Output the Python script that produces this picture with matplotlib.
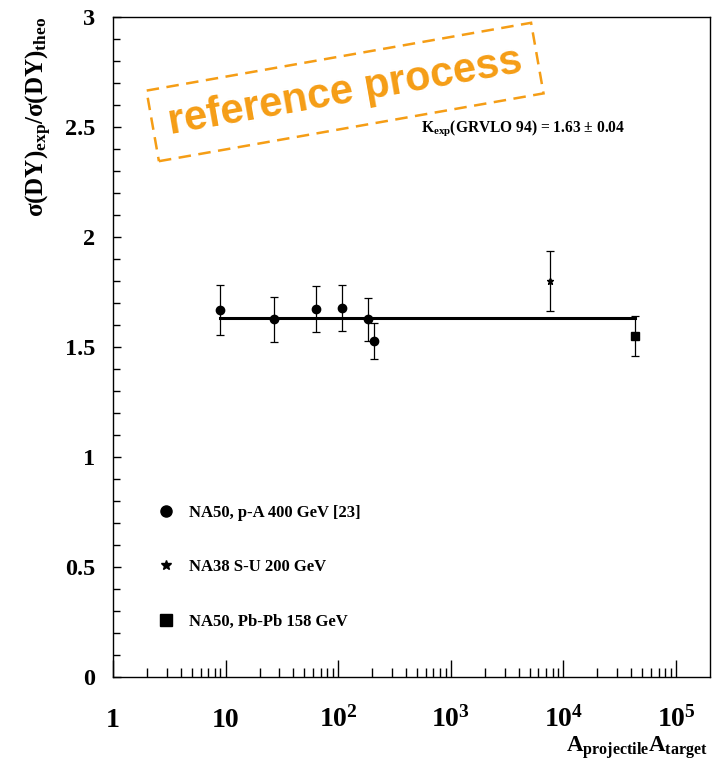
import numpy as np
from matplotlib import pyplot as plt
from matplotlib.lines import Line2D
from matplotlib.ticker import FixedLocator, MultipleLocator, NullFormatter

plt.rcParams['font.family'] = ['Liberation Serif', 'DejaVu Serif']
plt.rcParams['font.weight'] = 'bold'
plt.rcParams['mathtext.fontset'] = 'custom'
plt.rcParams['mathtext.rm'] = 'Liberation Serif:bold'
plt.rcParams['mathtext.bf'] = 'Liberation Serif:bold'
plt.rcParams['mathtext.it'] = 'Liberation Serif:bold'

# NA50 p-A 400 GeV (Be, Al, Cu, Ag, W, Pb)
pa_x = [9, 27, 64, 108, 184, 208]
pa_y = [1.668, 1.626, 1.673, 1.677, 1.627, 1.527]
pa_err = [0.115, 0.103, 0.103, 0.105, 0.098, 0.083]

# NA38 S-U 200 GeV
su_x = [7616]
su_y = [1.80]
su_err = [0.136]

# NA50 Pb-Pb 158 GeV
pbpb_x = [43264]
pbpb_y = [1.55]
pbpb_err = [0.093]

# fitted K factor
k_fit = 1.63
k_err = 0.04
fit_x = [9, 43264]

x_ticks = [1, 10, 100, 1000, 10000, 100000]
x_ticklabels = ['1', '10', r'$\mathbf{10^{2}}$', r'$\mathbf{10^{3}}$',
                r'$\mathbf{10^{4}}$', r'$\mathbf{10^{5}}$']
y_ticks = [0, 0.5, 1, 1.5, 2, 2.5, 3]
y_ticklabels = ['0', '0.5', '1', '1.5', '2', '2.5', '3']

fig = plt.figure(figsize=(7.18, 7.64), dpi=100)
ax = fig.add_axes([113 / 718, 87 / 764, 597 / 718, 660 / 764])

ax.plot(fit_x, [k_fit, k_fit], color='black', linewidth=2.2, zorder=2)

ax.errorbar(pa_x, pa_y, yerr=pa_err, fmt='o', color='black', markersize=6,
            elinewidth=0.9, capsize=3, capthick=0.9, zorder=3)
ax.errorbar(su_x, su_y, yerr=su_err, fmt='*', color='black', markersize=5,
            elinewidth=0.9, capsize=3, capthick=0.9, zorder=3)
ax.errorbar(pbpb_x, pbpb_y, yerr=pbpb_err, fmt='s', color='black', markersize=6,
            elinewidth=0.9, capsize=3, capthick=0.9, zorder=3)

ax.set_xscale('log')
ax.set_xlim(1, 2e5)
ax.set_ylim(0, 3)

ax.set_xticks(x_ticks, x_ticklabels, va='baseline')
ax.xaxis.set_minor_locator(FixedLocator(
    [m * 10 ** d for d in range(0, 5) for m in range(2, 10)]))
ax.xaxis.set_minor_formatter(NullFormatter())
ax.set_yticks(y_ticks, y_ticklabels)
ax.yaxis.set_minor_locator(MultipleLocator(0.1))

ax.tick_params(axis='x', which='major', direction='in', length=12, width=1,
               labelsize=20, pad=36, top=False)
ax.tick_params(axis='x', which='minor', direction='in', length=6.5, width=1,
               top=False)
ax.tick_params(axis='y', which='major', direction='in', length=6, width=1,
               labelsize=17.5, pad=13, right=False)
ax.tick_params(axis='y', which='minor', direction='in', length=5, width=1,
               right=False)
for side in ['top', 'right', 'bottom', 'left']:
    ax.spines[side].set_linewidth(1.0)

fig.text(708 / 718, 1 - 752 / 764,
         r'A$_{\mathbf{projectile}}$A$_{\mathbf{target}}$',
         fontsize=16.5, ha='right', va='baseline')
fig.text(39 / 718, 1 - 17 / 764,
         r'σ(DY)$_{\mathbf{exp}}$/σ(DY)$_{\mathbf{theo}}$',
         fontsize=18, rotation=90, ha='center', va='top')

fig.text(421 / 718, 1 - 132 / 764,
         r'K$_{\mathbf{exp}}$(GRVLO 94) = %.2f ± %.2f' % (k_fit, k_err),
         fontsize=11.2, ha='left', va='baseline')

handles = [
    Line2D([], [], linestyle='none', marker='o', color='black', markersize=8),
    Line2D([], [], linestyle='none', marker='*', color='black', markersize=7),
    Line2D([], [], linestyle='none', marker='s', color='black', markersize=8),
]
labels = ['NA50, p-A 400 GeV [23]', 'NA38 S-U 200 GeV', 'NA50, Pb-Pb 158 GeV']
ax.legend(handles, labels, loc='upper left', bbox_to_anchor=(0.0636, 0.271),
          borderaxespad=0, frameon=False, fontsize=12, handlelength=1.0,
          handletextpad=0.9, labelspacing=2.3)

fig.text(345 / 718, 1 - 92 / 764, 'reference process', fontsize=30,
         fontfamily='Liberation Sans', fontweight='bold', color='#f59d15',
         rotation=10, ha='center', va='center',
         bbox=dict(boxstyle='square,pad=0.38', facecolor='none',
                   edgecolor='#f59d15', linewidth=1.8, linestyle=(0, (5, 3))))

plt.savefig('out.png', dpi=100)
